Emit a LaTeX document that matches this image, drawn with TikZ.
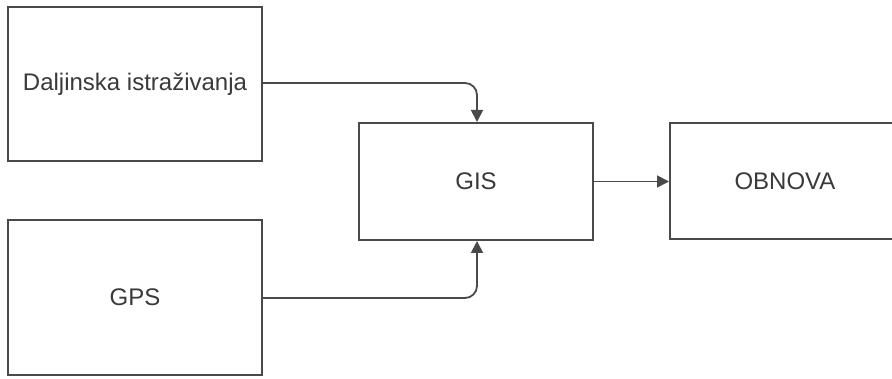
\documentclass[tikz,border=0pt]{standalone}
\usepackage{fontspec}
\setmainfont{Liberation Sans}
\usetikzlibrary{arrows.meta}
\definecolor{linec}{HTML}{4A4A4A}
\definecolor{textc}{HTML}{3A3A3A}
\begin{document}
\begin{tikzpicture}[x=1pt,y=-1pt,
  box/.style={draw=linec,line width=2pt,fill=white,inner sep=0pt,font=\fontsize{24}{28}\selectfont,text=textc},
  conn/.style={draw=linec,line width=1.8pt,rounded corners=12pt,-{Triangle[length=12pt,width=12pt]}}]
\useasboundingbox (0,0) rectangle (892,379);
\node[box,minimum width=254pt,minimum height=154pt] (d) at (135,84) {Daljinska istraživanja};
\node[box,minimum width=254pt,minimum height=155pt] (g) at (135,297.5) {GPS};
\node[box,minimum width=234pt,minimum height=117pt] (gis) at (476,181.5) {GIS};
\node[box,minimum width=230pt,minimum height=116pt] (o) at (785,181.5) {};
\node[font=\fontsize{24}{28}\selectfont,text=textc] (ot) at (o.center) {OBNOVA};
\coordinate (c1) at (477,83);
\coordinate (c2) at (477,298);
\draw[conn] (d.east |- c1) -- (c1) -- (c1 |- gis.north);
\draw[conn] (g.east |- c2) -- (c2) -- (c2 |- gis.south);
\draw[conn] (gis.east) -- (o.west);
\end{tikzpicture}
\end{document}
